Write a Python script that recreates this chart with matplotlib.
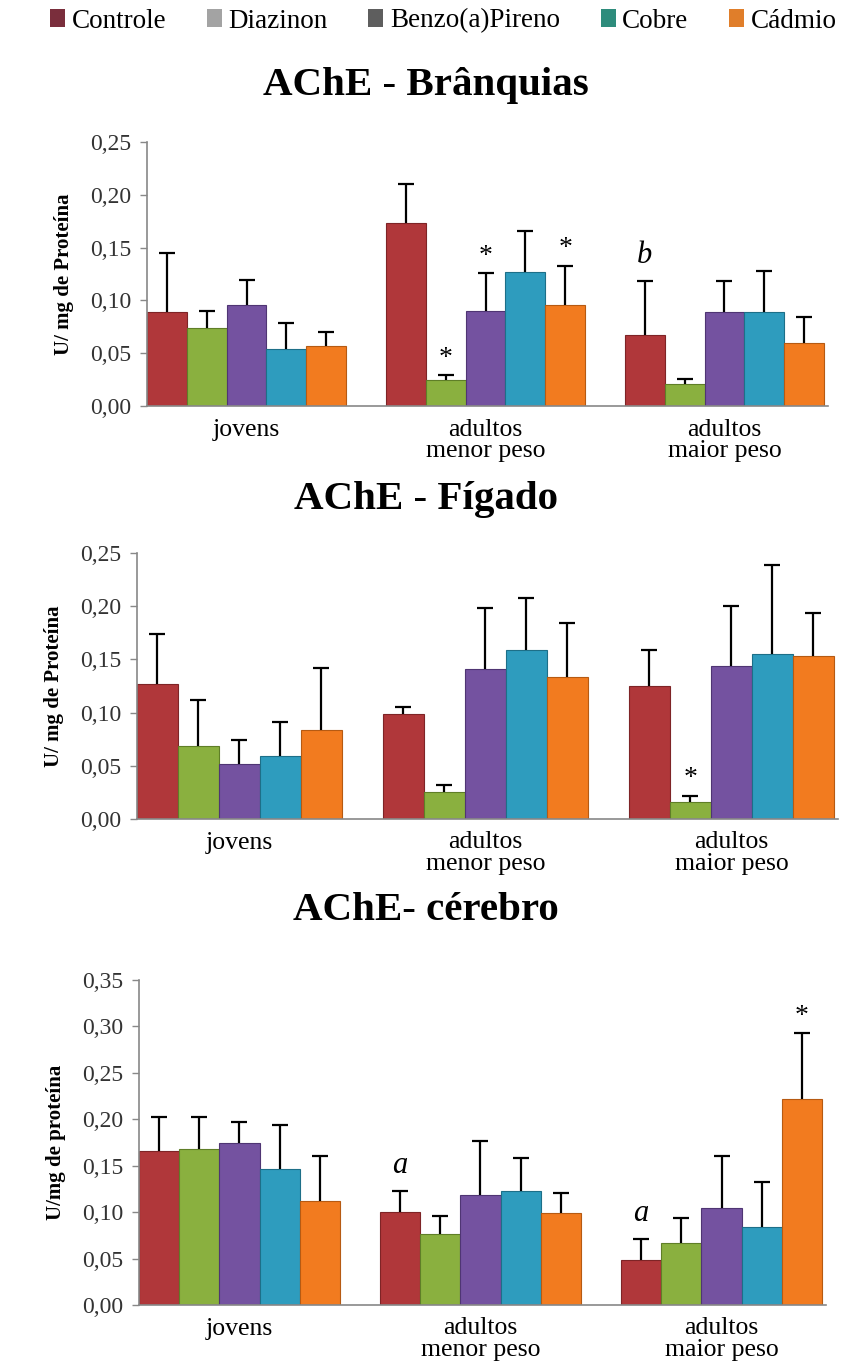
import matplotlib.pyplot as plt
from matplotlib.patches import Patch
import numpy as np

plt.rcParams['font.family'] = ['Liberation Serif', 'DejaVu Serif']

groups = ['jovens', 'adultos\nmenor peso', 'adultos\nmaior peso']
series = ['Controle', 'Diazinon', 'Benzo(a)Pireno', 'Cobre', 'Cádmio']
bar_colors = ['#B0373A', '#8AB03F', '#7452A0', '#2E9CBE', '#F27B1F']
edge_colors = ['#7E2426', '#5F7E27', '#4F3573', '#1D6F88', '#B65A12']
legend_colors = ['#7A2E3C', '#A3A3A3', '#5E5E5E', '#2E8C7C', '#E07E2A']

# valores por série (linhas) e grupo (colunas)
branq_mean = [[0.089, 0.173, 0.067],
              [0.074, 0.025, 0.021],
              [0.096, 0.090, 0.089],
              [0.054, 0.127, 0.089],
              [0.057, 0.096, 0.060]]
branq_top = [[0.145, 0.210, 0.118],
             [0.090, 0.029, 0.026],
             [0.119, 0.126, 0.118],
             [0.079, 0.166, 0.128],
             [0.070, 0.133, 0.084]]

figado_mean = [[0.127, 0.099, 0.125],
               [0.069, 0.025, 0.016],
               [0.052, 0.141, 0.144],
               [0.059, 0.159, 0.155],
               [0.084, 0.133, 0.153]]
figado_top = [[0.174, 0.105, 0.159],
              [0.112, 0.032, 0.022],
              [0.074, 0.198, 0.200],
              [0.091, 0.208, 0.239],
              [0.142, 0.184, 0.194]]

cerebro_mean = [[0.166, 0.100, 0.049],
                [0.168, 0.076, 0.067],
                [0.175, 0.119, 0.104],
                [0.147, 0.123, 0.084],
                [0.112, 0.099, 0.222]]
cerebro_top = [[0.202, 0.123, 0.071],
               [0.202, 0.096, 0.094],
               [0.197, 0.177, 0.161],
               [0.194, 0.158, 0.133],
               [0.160, 0.121, 0.293]]

# marcas de significância: (grupo, série, texto)
branq_marks = [(1, 1, '*'), (1, 2, '*'), (1, 4, '*'), (2, 0, 'b')]
figado_marks = [(2, 1, '*')]
cerebro_marks = [(1, 0, 'a'), (2, 0, 'a'), (2, 4, '*')]

panels = [
    ('AChE - Brânquias', 'U/ mg de Proteína', branq_mean, branq_top, branq_marks,
     0.25, [147, 828, 142, 406], 86),
    ('AChE - Fígado', 'U/ mg de Proteína', figado_mean, figado_top, figado_marks,
     0.25, [137, 838, 553, 819], 500),
    ('AChE- cérebro', 'U/mg de proteína', cerebro_mean, cerebro_top, cerebro_marks,
     0.35, [139, 826, 980, 1305], 911),
]

W, H = 851, 1365
fig = plt.figure(figsize=(W / 100, H / 100), dpi=100)

for title, ylabel, mean, top, marks, ymax, box, ty in panels:
    l, r, t, b = box
    ax = fig.add_axes([l / W, 1 - b / H, (r - l) / W, (b - t) / H])
    mean = np.array(mean)
    top = np.array(top)
    for i in range(len(series)):
        x = np.arange(len(groups)) * 6 + i
        ax.bar(x, mean[i], width=1.0, color=bar_colors[i],
               edgecolor=edge_colors[i], linewidth=0.8, zorder=2)
        err = top[i] - mean[i]
        eb = ax.errorbar(x, mean[i], yerr=[np.zeros_like(err), err], fmt='none',
                         ecolor='black', elinewidth=1.6, capsize=6, capthick=1.6,
                         zorder=3)
        # só a barra de erro superior tem traço
        eb[1][0].set_visible(False)
    for g, s, txt in marks:
        x = g * 6 + s
        style = 'italic' if txt != '*' else 'normal'
        size = 22 if txt != '*' else 20
        ax.annotate(txt, (x, top[s][g]), xytext=(0, 3 if txt == '*' else 8),
                    textcoords='offset points', ha='center', va='bottom',
                    fontsize=size, fontstyle=style)
    ax.set_xlim(-0.5, 16.6)
    ax.set_ylim(0, ymax)
    ticks = np.arange(0, ymax + 0.001, 0.05)
    ax.set_yticks(ticks)
    ax.set_yticklabels([f'{v:.2f}'.replace('.', ',') for v in ticks])
    ax.set_xticks(np.arange(len(groups)) * 6 + 2)
    ax.set_xticklabels(groups, linespacing=0.95)
    ax.tick_params(axis='x', length=0, labelsize=18.5, pad=9)
    ax.tick_params(axis='y', length=5, width=1, color='#888888', labelsize=17,
                   labelcolor='#333333', pad=6)
    for sp in ['top', 'right']:
        ax.spines[sp].set_visible(False)
    for sp in ['left', 'bottom']:
        ax.spines[sp].set_color('#888888')
        ax.spines[sp].set_linewidth(1.2)
    ax.set_ylabel(ylabel, fontsize=15, fontweight='bold', labelpad=12)
    fig.text(0.5, 1 - ty / H, title, ha='center', va='center', fontsize=29.5,
             fontweight='bold')

handles = [Patch(facecolor=c, edgecolor='none') for c in legend_colors]
fig.legend(handles, series, loc='center', bbox_to_anchor=(0.521, 1 - 21 / H),
           ncol=5, frameon=False, fontsize=19.5, handlelength=0.55,
           handleheight=0.6, handletextpad=0.25, columnspacing=1.5,
           borderpad=0)

fig.savefig('out.png', dpi=100, facecolor='white')
